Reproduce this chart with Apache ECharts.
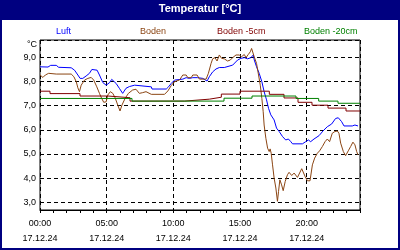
<!DOCTYPE html>
<html>
<head>
<meta charset="utf-8">
<script src="https://cdn.jsdelivr.net/npm/echarts@6/dist/echarts.min.js"></script>
<style>html,body{margin:0;padding:0;background:#fff}#c{width:400px;height:250px}</style>
</head>
<body>
<div id="c"></div>
<script>
const seriesNames = ['Luft', 'Boden', 'Boden -5cm', 'Boden -20cm'];
const dateLabel = '17.12.24';
const yTicks = [3, 4, 5, 6, 7, 8, 9];

const luftHours = [0.0,0.6,0.8,1.22,1.4,2.34,2.59,2.84,3.01,3.21,3.46,3.71,3.89,4.28,4.46,4.71,4.96,5.21,5.38,5.53,5.71,5.95,6.2,6.45,6.7,7.1,8.35,8.4,9.47,9.64,9.84,10.09,10.21,10.71,10.96,11.21,11.46,11.83,12.21,12.53,12.7,12.95,13.2,13.45,13.82,13.95,14.45,14.57,14.82,15.07,15.32,15.57,15.82,16.0,16.07,16.24,16.44,16.64,16.81,16.99,17.14,17.31,17.56,17.74,17.94,18.19,18.43,18.63,18.81,18.94,19.68,19.93,20.13,20.3,20.55,20.93,21.22,21.55,21.87,22.17,22.37,22.62,22.8,23.42,23.62,23.85];
const luft = [8.61,8.60,8.67,8.67,8.59,8.57,8.47,8.27,8.13,8.13,8.23,8.34,8.50,8.47,8.27,7.96,7.85,7.95,8.09,8.13,7.92,7.72,7.51,7.72,7.79,7.85,7.78,7.69,7.69,7.78,7.92,8.06,8.10,8.10,8.16,8.13,8.16,8.16,8.13,8.02,8.2,8.4,8.52,8.58,8.58,8.65,8.68,8.75,8.89,8.96,8.99,8.94,8.99,9.1,8.89,8.61,8.34,7.99,7.58,7.24,6.89,6.62,6.41,6.07,5.93,5.72,5.58,5.62,5.51,5.42,5.42,5.51,5.58,5.51,5.62,5.76,5.95,6.13,6.24,6.47,6.5,6.34,6.16,6.16,6.2,6.16];

const bodenHours = [0.0,0.22,0.4,0.65,1.22,2.34,2.54,2.72,2.84,2.96,3.09,3.34,3.59,3.84,4.03,4.26,4.46,4.63,4.78,4.96,5.08,5.28,5.46,5.63,5.83,6.0,6.15,6.38,6.63,6.95,7.2,7.45,7.7,7.95,8.1,8.35,9.34,9.59,9.84,10.04,10.21,10.46,10.71,10.96,11.09,11.34,11.46,11.78,11.96,12.46,12.63,12.83,12.95,13.12,13.28,13.45,13.62,13.82,14.07,14.27,14.45,14.7,14.94,15.12,15.32,15.45,15.62,15.77,15.87,16.05,16.24,16.39,16.52,16.64,16.74,16.81,16.94,17.07,17.19,17.26,17.34,17.44,17.56,17.69,17.81,17.89,17.99,18.12,18.24,18.39,18.56,18.68,18.88,19.06,19.31,19.43,19.63,19.76,19.88,20.06,20.25,20.43,20.6,20.8,20.97,21.18,21.38,21.55,21.72,21.92,22.12,22.3,22.42,22.55,22.75,22.92,23.12,23.3,23.47,23.62,23.75,23.85];
const boden = [8.27,8.17,8.27,8.34,8.31,8.31,8.2,7.99,7.74,7.58,7.85,8.06,8.13,8.17,8.06,7.78,7.51,7.3,7.14,7.16,7.44,7.58,7.51,7.33,7.03,6.78,7.03,7.3,7.51,7.65,7.68,7.51,7.54,7.58,7.58,7.47,7.47,7.61,7.83,7.97,8.02,8.06,8.27,8.27,8.16,8.16,8.27,8.27,8.1,8.1,8.34,8.75,8.94,8.99,8.85,9.1,8.96,8.94,8.85,8.89,8.99,9.1,9.1,9.03,9.12,8.99,9.12,9.23,9.37,9.05,8.75,8.27,7.85,7.3,6.75,6.2,5.65,5.24,5.1,5.21,5.03,4.55,4.0,3.59,3.04,3.45,3.93,3.72,3.48,3.86,4.14,4.24,4.11,4.21,4.03,4.11,4.39,4.39,4.07,3.89,3.89,4.55,4.83,5.03,5.13,5.31,5.51,5.62,5.51,5.86,5.93,5.95,5.86,5.45,5.1,4.93,5.13,5.31,5.49,5.38,5.1,4.96];

const boden5Hours = [0,0.75,3.0,5.1,6.75,10.85,12.7,13.6,15.0,17.2,18.3,19.35,20.4,21.6,22.95,24];
const boden5 = [7.6,7.5,7.4,7.33,7.19,7.27,7.35,7.48,7.6,7.47,7.32,7.14,7.02,6.9,6.78,6.78];

const boden20Hours = [0,6.9,13.8,15.9,19.2,20.9,22.35,24];
const boden20 = [7.3,7.19,7.31,7.4,7.3,7.19,7.1,7.1];

const colors = ['#0000ff', '#8b4513', '#800000', '#008000'];
const FONT = 'Liberation Sans';

function pairs(h, v) { return h.map((x, i) => [x, v[i]]); }

const chart = echarts.init(document.getElementById('c'), null, { renderer: 'canvas' });
const legendLefts = [51, 135, 212, 299];
chart.setOption({
  animation: false,
  backgroundColor: '#ffffff',
  title: {
    text: 'Temperatur [°C]', left: 'center', top: 3, padding: 0,
    textStyle: { color: '#ffffff', fontSize: 11, fontWeight: 'bold', fontFamily: FONT }
  },
  graphic: [
    { type: 'rect', z: -10, silent: true, shape: { x: 0, y: 0, width: 400, height: 20 }, style: { fill: '#000080' } },
    { type: 'rect', z: -10, silent: true, shape: { x: 1, y: 1, width: 398, height: 248 }, style: { fill: 'none', stroke: '#000080', lineWidth: 2 } },
    { type: 'text', silent: true, x: 37, y: 45, style: { text: '°C', textAlign: 'right', textVerticalAlign: 'middle', fill: '#000', font: '9px "Liberation Sans"' } }
  ],
  legend: seriesNames.map((n, i) => ({
    data: [n], left: legendLefts[i], top: 27, padding: 0, itemWidth: 0, itemHeight: 0,
    selectedMode: false, icon: 'rect',
    textStyle: { color: colors[i], fontSize: 9, fontFamily: FONT }
  })),
  grid: { left: 40, top: 40, right: 40, bottom: 40, show: true, borderColor: '#000', borderWidth: 1, backgroundColor: '#fff' },
  xAxis: {
    type: 'value', min: 0, max: 24, interval: 5,
    axisLine: { show: true, lineStyle: { color: '#000', width: 1 } },
    axisTick: { show: true, length: 3, lineStyle: { color: '#000' } },
    minorTick: { show: true, splitNumber: 5, length: 3, lineStyle: { color: '#000' } },
    splitLine: { show: true, lineStyle: { color: '#000', type: [4, 3], width: 1 } },
    axisLabel: {
      showMaxLabel: false, margin: 6, color: '#000', fontSize: 9, fontFamily: FONT, lineHeight: 15,
      formatter: v => String(Math.round(v)).padStart(2, '0') + ':00\n' + dateLabel
    }
  },
  yAxis: {
    type: 'value', min: 2.68, max: 9.72,
    axisLine: { show: false },
    axisTick: { show: false },
    splitLine: { show: true, lineStyle: { color: '#000', type: [4, 3], width: 1 } },
    axisLabel: {
      showMinLabel: false, showMaxLabel: false, margin: 4, color: '#000', fontSize: 9, fontFamily: FONT,
      formatter: v => yTicks.includes(Math.round(v * 100) / 100) ? v.toFixed(1).replace('.', ',') : ''
    }
  },
  series: [
    { name: seriesNames[0], type: 'line', data: pairs(luftHours, luft), showSymbol: false, lineStyle: { width: 1, color: colors[0] }, itemStyle: { color: colors[0] } },
    { name: seriesNames[1], type: 'line', data: pairs(bodenHours, boden), showSymbol: false, lineStyle: { width: 1, color: colors[1] }, itemStyle: { color: colors[1] } },
    { name: seriesNames[2], type: 'line', step: 'end', data: pairs(boden5Hours, boden5), showSymbol: false, lineStyle: { width: 1, color: colors[2] }, itemStyle: { color: colors[2] } },
    { name: seriesNames[3], type: 'line', step: 'end', data: pairs(boden20Hours, boden20), showSymbol: false, lineStyle: { width: 1, color: colors[3] }, itemStyle: { color: colors[3] } }
  ]
});
</script>
</body>
</html>
